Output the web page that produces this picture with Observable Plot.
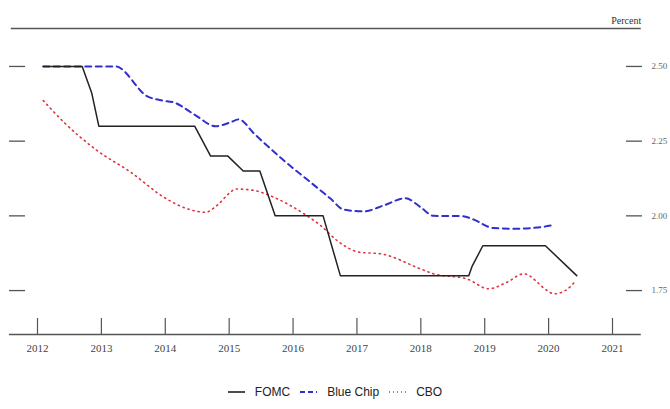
<!DOCTYPE html>
<html>
<head>
<meta charset="utf-8">
<script src="https://cdn.jsdelivr.net/npm/d3@7"></script>
<script src="https://cdn.jsdelivr.net/npm/@observablehq/plot@0.6"></script>
<style>
  body { margin: 0; background: #fff; }
  #wrap { position: relative; width: 670px; height: 409px; }
  #legend { position: absolute; left: 0; top: 385px; width: 670px; display: flex; justify-content: center; align-items: center;
    font-family: "Liberation Sans", Arial, sans-serif; font-size: 12px; color: #222; }
  #legend .item { display: flex; align-items: center; margin: 0 5px; }
  #legend svg { margin-right: 10px; }
  #chart svg text { font-family: "Liberation Serif", "Times New Roman", serif; }
</style>
</head>
<body>
<div id="wrap">
  <div id="chart"></div>
  <div id="legend"></div>
</div>
<script>
// FOMC median long-run projection (year fraction, percent)
const fomcT = [2012.09, 2012.70, 2012.85, 2012.96, 2014.46, 2014.71, 2014.98, 2015.22, 2015.48, 2015.72, 2016.47, 2016.74, 2018.75, 2018.80, 2018.97, 2019.95, 2020.44];
const fomcV = [2.50, 2.50, 2.41, 2.30, 2.30, 2.20, 2.20, 2.15, 2.15, 2.00, 2.00, 1.80, 1.80, 1.83, 1.90, 1.90, 1.80];

// Blue Chip consensus
const bcT = [2012.09, 2013.22, 2013.72, 2013.95, 2014.13, 2014.45, 2014.79, 2015.02, 2015.15, 2015.39, 2015.83, 2016.27, 2016.59, 2016.79, 2017.11, 2017.42, 2017.76, 2017.99, 2018.20, 2018.65, 2018.80, 2019.14, 2019.45, 2019.87, 2020.09];
const bcV = [2.50, 2.50, 2.40, 2.386, 2.38, 2.34, 2.30, 2.313, 2.323, 2.275, 2.19, 2.113, 2.057, 2.021, 2.015, 2.035, 2.059, 2.03, 2.00, 1.999, 1.99, 1.959, 1.957, 1.962, 1.97];

// CBO
const cboT = [2012.09, 2012.41, 2012.93, 2013.46, 2013.98, 2014.34, 2014.63, 2014.81, 2015.02, 2015.10, 2015.39, 2015.70, 2016.17, 2016.43, 2016.69, 2017.05, 2017.37, 2017.99, 2018.20, 2018.72, 2019.06, 2019.35, 2019.61, 2019.98, 2020.08, 2020.26, 2020.43];
const cboV = [2.386, 2.314, 2.219, 2.146, 2.062, 2.024, 2.012, 2.035, 2.079, 2.09, 2.085, 2.062, 2.007, 1.968, 1.917, 1.878, 1.873, 1.823, 1.806, 1.789, 1.756, 1.778, 1.806, 1.75, 1.739, 1.75, 1.784];

const years = [2012, 2013, 2014, 2015, 2016, 2017, 2018, 2019, 2020, 2021];
const yTicks = [1.75, 2.00, 2.25, 2.50];
const seriesNames = ["FOMC", "Blue Chip", "CBO"];

const zip = (t, v, s) => t.map((d, i) => ({t: d, v: v[i], s}));
const fomc = zip(fomcT, fomcV, "FOMC");
const bc = zip(bcT, bcV, "Blue Chip");
const cbo = zip(cboT, cboV, "CBO");

const W = 670, H = 372;
const yMin = 1.603, yMax = 2.627;
const xL = 2011.56, xR = 2021.45;
const axisColor = "#555";
const serif = "'Liberation Serif', 'Times New Roman', serif";

const plot = Plot.plot({
  width: W, height: H,
  marginLeft: 37, marginRight: 58, marginTop: 28, marginBottom: 38,
  style: {fontFamily: serif, background: "#fff", overflow: "visible"},
  x: {domain: [2012, 2021], axis: null},
  y: {domain: [yMin, yMax], axis: null},
  marks: [
    Plot.ruleY([yMax], {x1: 2011.59, x2: xR, stroke: axisColor, strokeWidth: 1.5}),
    Plot.ruleY([yMin], {x1: xL, x2: xR, stroke: axisColor, strokeWidth: 1.5}),
    Plot.ruleX(years, {y1: yMin, y2: yMin + 16 / 298.7, stroke: axisColor, strokeWidth: 1.2}),
    Plot.text(years, {x: d => d, y: yMin, dy: 14, text: d => String(d), fill: "#444", fontSize: 11}),
    Plot.axisY(yTicks, {anchor: "left", label: null, tickSize: 16, dx: -12, tickFormat: () => "", stroke: axisColor, strokeWidth: 1.3}),
    Plot.axisY(yTicks, {anchor: "right", label: null, tickSize: 16, dx: 13, tickPadding: 10, tickFormat: d => d.toFixed(2), stroke: axisColor, strokeWidth: 1.3, fill: "#666", fontSize: 9}),
    Plot.text(["Percent"], {x: 2021.45, y: yMax, dy: -8, text: d => d, textAnchor: "end", fontSize: 10, fill: "#333"}),
    Plot.line(cbo, {x: "t", y: "v", stroke: "#e0303c", strokeWidth: 1.6, strokeDasharray: "1.2,4", strokeLinecap: "round", curve: "monotone-x"}),
    Plot.line(bc, {x: "t", y: "v", stroke: "#3030cc", strokeWidth: 2, strokeDasharray: "6,4.5", curve: "monotone-x"}),
    Plot.line(fomc, {x: "t", y: "v", stroke: "#222", strokeWidth: 1.5})
  ]
});
document.getElementById("chart").appendChild(plot);

const styles = {
  "FOMC": {stroke: "#222", dash: null, w: 1.6},
  "Blue Chip": {stroke: "#3030cc", dash: "5,3", w: 2},
  "CBO": {stroke: "#e0303c", dash: "1,3", w: 1.3}
};
const leg = d3.select("#legend");
seriesNames.forEach(name => {
  const st = styles[name];
  const item = leg.append("div").attr("class", "item");
  const s = item.append("svg").attr("width", 17).attr("height", 10);
  const l = s.append("line").attr("x1", 0).attr("x2", 17).attr("y1", 5).attr("y2", 5)
    .attr("stroke", st.stroke).attr("stroke-width", st.w);
  if (st.dash) l.attr("stroke-dasharray", st.dash);
  item.append("span").text(name);
});
</script>
</body>
</html>
